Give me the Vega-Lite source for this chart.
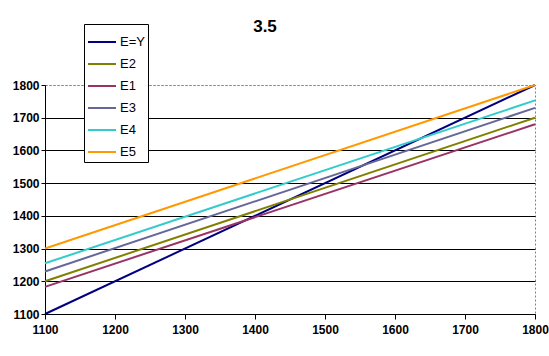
{
  "$schema": "https://vega.github.io/schema/vega-lite/v6.json",
  "autosize": "none",
  "width": 490,
  "height": 229,
  "padding": {"left": 45, "top": 85, "right": 14, "bottom": 42},
  "background": "white",
  "title": {"text": "3.5", "font": "Liberation Sans", "fontSize": 17, "fontWeight": "bold", "color": "black", "anchor": "middle", "dx": -25, "offset": 0, "dy": 12},
  "data": {"values": [
    {"x": 1100, "y": 1100, "series": "E=Y"},
    {"x": 1800, "y": 1800, "series": "E=Y"},
    {"x": 1100, "y": 1200, "series": "E2"},
    {"x": 1800, "y": 1700, "series": "E2"},
    {"x": 1100, "y": 1183, "series": "E1"},
    {"x": 1800, "y": 1680, "series": "E1"},
    {"x": 1100, "y": 1230, "series": "E3"},
    {"x": 1800, "y": 1730, "series": "E3"},
    {"x": 1100, "y": 1255, "series": "E4"},
    {"x": 1800, "y": 1753, "series": "E4"},
    {"x": 1100, "y": 1300, "series": "E5"},
    {"x": 1800, "y": 1800, "series": "E5"}
  ]},
  "mark": {"type": "line", "strokeWidth": 2, "clip": false},
  "encoding": {
    "x": {"field": "x", "type": "quantitative", "scale": {"domain": [1100, 1800], "nice": false, "zero": false},
      "axis": {"title": null, "format": "d", "values": [1100, 1200, 1300, 1400, 1500, 1600, 1700, 1800], "grid": false, "domainColor": "black", "tickColor": "black", "tickSize": 5, "labelFont": "Liberation Sans", "labelFontSize": 12, "labelFontWeight": "bold", "labelColor": "black", "labelPadding": 5, "labelFlush": false}},
    "y": {"field": "y", "type": "quantitative", "scale": {"domain": [1100, 1800], "nice": false, "zero": false},
      "axis": {"title": null, "format": "d", "values": [1100, 1200, 1300, 1400, 1500, 1600, 1700, 1800], "grid": true, "gridColor": {"condition": {"test": "datum.value === 1800", "value": "#808080"}, "value": "black"}, "gridDash": {"condition": {"test": "datum.value === 1800", "value": [2, 2]}, "value": []}, "gridOpacity": 1, "domainColor": "black", "tickColor": "black", "tickSize": 4, "labelFont": "Liberation Sans", "labelFontSize": 12, "labelFontWeight": "bold", "labelColor": "black", "labelPadding": 2, "labelFlush": false}},
    "color": {"field": "series", "type": "nominal",
      "scale": {"domain": ["E=Y", "E2", "E1", "E3", "E4", "E5"], "range": ["#000080", "#808000", "#993366", "#666699", "#33CCCC", "#FF9900"]},
      "legend": {"title": null, "orient": "none", "legendX": 39, "legendY": -61, "strokeColor": "black", "fillColor": "white", "padding": 3, "symbolType": "stroke", "symbolSize": 784, "symbolStrokeWidth": 2, "labelFont": "Liberation Sans", "labelFontSize": 13, "labelColor": "black", "rowPadding": -1, "labelOffset": 3}}
  },
  "config": {"view": {"stroke": "#808080", "strokeDash": [2, 2]}}
}
